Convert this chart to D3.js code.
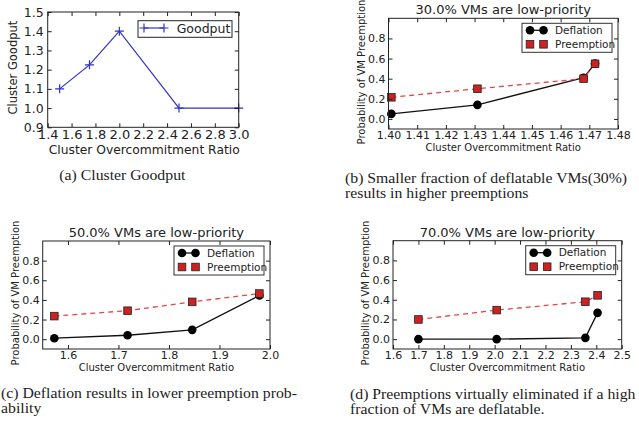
<!DOCTYPE html>
<html>
<head>
<meta charset="utf-8">
<script src="https://cdn.jsdelivr.net/npm/d3@7/dist/d3.min.js"></script>
<style>
  body { margin: 0; background: #fff; }
  text { font-family: "DejaVu Sans", sans-serif; fill: #222; }
  .caption { font-family: "Liberation Serif", serif; }
</style>
</head>
<body>
<svg id="chart" width="639" height="421"></svg>
<script>
// (a) cluster goodput
var goodputRatio = [1.5, 1.75, 2.0, 2.5, 3.0];
var goodput = [1.1, 1.225, 1.4, 1.0, 1.0];
var goodputXTicks = [1.4, 1.6, 1.8, 2.0, 2.2, 2.4, 2.6, 2.8, 3.0];
var goodputYTicks = [0.9, 1.0, 1.1, 1.2, 1.3, 1.4, 1.5];

// (b) 30% low-priority
var ratio30 = [1.401, 1.431, 1.468, 1.472];
var deflation30 = [0.05, 0.14, 0.41, 0.55];
var preemption30 = [0.215, 0.30, 0.40, 0.548];
var xTicks30 = [1.40, 1.41, 1.42, 1.43, 1.44, 1.45, 1.46, 1.47, 1.48];

// (c) 50% low-priority
var ratio50 = [1.573, 1.718, 1.846, 1.979];
var deflation50 = [0.01, 0.04, 0.095, 0.445];
var preemption50 = [0.235, 0.29, 0.38, 0.465];
var xTicks50 = [1.6, 1.7, 1.8, 1.9, 2.0];

// (d) 70% low-priority
var ratio70 = [1.70, 2.008, 2.357, 2.405];
var deflation70 = [0.0, 0.0, 0.013, 0.267];
var preemption70 = [0.20, 0.295, 0.38, 0.445];
var xTicks70 = [1.6, 1.7, 1.8, 1.9, 2.0, 2.1, 2.2, 2.3, 2.4, 2.5];

var probTicks = [0.0, 0.2, 0.4, 0.6, 0.8];
var seriesNames = ["Deflation", "Preemption"];

var captionA = ["(a) Cluster Goodput"];
var captionB = ["(b) Smaller fraction of deflatable VMs(30%)", "results in higher preemptions"];
var captionC = ["(c) Deflation results in lower preemption prob-", "ability"];
var captionD = ["(d) Preemptions virtually eliminated if a high", "fraction of VMs are deflatable."];

var svg = d3.select("#chart");
svg.append("rect").attr("width", 639).attr("height", 421).attr("fill", "#fff");

var BLUE = "#3232c4", RED = "#cc2222", DASHRED = "#e04848";

// frame with inward ticks on all four sides, labels on left/bottom
function drawFrame(g, x, y, xTicks, yTicks, xFmt, yFmt, fsX, fsY, padX, padY) {
  var w = x.range()[1], h = y.range()[0];
  var bottom = g.append("g").attr("transform", `translate(0,${h})`)
    .call(d3.axisBottom(x).tickValues(xTicks).tickFormat(xFmt).tickSizeInner(-4).tickSizeOuter(0).tickPadding(padX));
  var top = g.append("g")
    .call(d3.axisTop(x).tickValues(xTicks).tickFormat("").tickSizeInner(-4).tickSizeOuter(0));
  var left = g.append("g")
    .call(d3.axisLeft(y).tickValues(yTicks).tickFormat(yFmt).tickSizeInner(-4).tickSizeOuter(0).tickPadding(padY));
  var right = g.append("g").attr("transform", `translate(${w},0)`)
    .call(d3.axisRight(y).tickValues(yTicks).tickFormat("").tickSizeInner(-4).tickSizeOuter(0));
  [bottom, top, left, right].forEach(function(a) {
    a.select(".domain").remove();
    a.selectAll("line").attr("stroke", "#222");
    a.selectAll("text").attr("font-family", "DejaVu Sans").attr("fill", "#222");
  });
  bottom.selectAll("text").attr("font-size", fsX);
  left.selectAll("text").attr("font-size", fsY);
  g.append("rect").attr("width", w).attr("height", h)
    .attr("fill", "none").attr("stroke", "#222").attr("stroke-width", 1);
}

function drawCaption(lines, x, y) {
  svg.append("g").selectAll("text").data(lines).enter().append("text")
    .attr("class", "caption")
    .attr("transform", function(d, i) { return `translate(${x},${y + i * 14.8}) scale(1.16,1)`; })
    .attr("font-size", 13.6)
    .text(function(d) { return d; });
}

function plusPath(cx, cy, s) {
  return `M${cx - s},${cy}H${cx + s}M${cx},${cy - s}V${cy + s}`;
}

// ---------- (a) ----------
(function() {
  var L = 47.7, T = 12, W = 191, H = 115.3;
  var g = svg.append("g").attr("transform", `translate(${L},${T})`);
  var x = d3.scaleLinear().domain([1.4, 3.0]).range([0, W]);
  var y = d3.scaleLinear().domain([0.9, 1.5]).range([H, 0]);

  var line = d3.line().x(function(d, i) { return x(goodputRatio[i]); }).y(function(d) { return y(d); });
  g.append("path").datum(goodput).attr("d", line)
    .attr("fill", "none").attr("stroke", BLUE).attr("stroke-width", 1.2);
  g.selectAll("path.mk").data(goodput).enter().append("path").attr("class", "mk")
    .attr("d", function(d, i) { return plusPath(x(goodputRatio[i]), y(d), 4.5); })
    .attr("stroke", BLUE).attr("stroke-width", 1.2);

  drawFrame(g, x, y, goodputXTicks, goodputYTicks, d3.format(".1f"), d3.format(".1f"), 13, 12.5, 2, 4);

  // legend
  var lg = g.append("g").attr("transform", `translate(${138 - L},${20.7 - T})`);
  lg.append("rect").attr("width", 94).attr("height", 16.6)
    .attr("fill", "#fff").attr("stroke", "#222").attr("stroke-width", 1);
  lg.append("path").attr("d", "M6,7.3H26").attr("stroke", BLUE).attr("stroke-width", 1.2);
  lg.append("path").attr("d", plusPath(6, 7.3, 4.5) + plusPath(26, 7.3, 4.5)).attr("stroke", BLUE).attr("stroke-width", 1.2);
  lg.append("text").attr("x", 38.7).attr("y", 12).attr("font-size", 12.5).text("Goodput");

  svg.append("text").attr("x", L + W / 2 + 1).attr("y", 154).attr("text-anchor", "middle")
    .attr("font-size", 12.3).text("Cluster Overcommitment Ratio");
  svg.append("text").attr("transform", `translate(${L - 31},${T + H / 2 - 2}) rotate(-90)`)
    .attr("text-anchor", "middle").attr("font-size", 11.5).text("Cluster Goodput");
  drawCaption(captionA, 59.3, 180);
})();

// ---------- (b), (c), (d) ----------
function drawProbPanel(o) {
  var W = o.right - o.left, H = o.bottom - o.top;
  var g = svg.append("g").attr("transform", `translate(${o.left},${o.top})`);
  var x = d3.scaleLinear().domain(o.xDomain).range([0, W]);
  var y = d3.scaleLinear().domain([-0.1, 1.0]).range([H, 0]);

  var line = d3.line().x(function(d, i) { return x(o.ratios[i]); }).y(function(d) { return y(d); });

  g.append("path").datum(o.deflation).attr("d", line)
    .attr("fill", "none").attr("stroke", "#111").attr("stroke-width", 1.3);
  g.selectAll("circle.def").data(o.deflation).enter().append("circle").attr("class", "def")
    .attr("cx", function(d, i) { return x(o.ratios[i]); })
    .attr("cy", function(d) { return y(d); })
    .attr("r", 4.3).attr("fill", "#000");

  g.append("path").datum(o.preemption).attr("d", line)
    .attr("fill", "none").attr("stroke", DASHRED).attr("stroke-width", 1.3).attr("stroke-dasharray", "5,4");
  g.selectAll("rect.pre").data(o.preemption).enter().append("rect").attr("class", "pre")
    .attr("x", function(d, i) { return x(o.ratios[i]) - 3.8; })
    .attr("y", function(d) { return y(d) - 3.8; })
    .attr("width", 7.6).attr("height", 7.6)
    .attr("fill", RED).attr("stroke", "#222").attr("stroke-width", 0.8);

  drawFrame(g, x, y, o.xTicks, probTicks, d3.format(o.xFmt), d3.format(".1f"), 11, 11, 2.5, 3);

  // legend
  var lw = 90, lh = 29;
  var lg = g.append("g").attr("transform", `translate(${W - 6 - lw},5)`);
  lg.append("rect").attr("width", lw).attr("height", lh)
    .attr("fill", "#fff").attr("stroke", "#333").attr("stroke-width", 1);
  lg.append("path").attr("d", "M8,7H21.5").attr("stroke", "#111").attr("stroke-width", 1.3);
  [8, 21.5].forEach(function(cx) {
    lg.append("circle").attr("cx", cx).attr("cy", 7).attr("r", 4.3).attr("fill", "#000");
    lg.append("rect").attr("x", cx - 3.8).attr("y", 21 - 3.8).attr("width", 7.6).attr("height", 7.6)
      .attr("fill", RED).attr("stroke", "#222").attr("stroke-width", 0.8);
  });
  lg.selectAll("text").data(seriesNames).enter().append("text")
    .attr("x", 33).attr("y", function(d, i) { return 10.8 + i * 14; })
    .attr("font-size", 10.5).text(function(d) { return d; });

  svg.append("text").attr("x", o.left + W / 2).attr("y", o.top - 4).attr("text-anchor", "middle")
    .attr("font-size", 13).text(o.title);
  svg.append("text").attr("x", o.left + W / 2).attr("y", o.bottom + 21.5).attr("text-anchor", "middle")
    .attr("font-size", 10).text("Cluster Overcommitment Ratio");
  svg.append("text").attr("transform", `translate(${o.left - 24},${o.labelY}) rotate(-90)`)
    .attr("text-anchor", "middle").attr("font-size", 10).text("Probability of VM Preemption");
}

drawProbPanel({
  left: 388.5, right: 618, top: 18.3, bottom: 129,
  xDomain: [1.40, 1.48], xTicks: xTicks30, xFmt: ".2f",
  ratios: ratio30, deflation: deflation30, preemption: preemption30,
  title: "30.0% VMs are low-priority", labelY: 72
});
drawProbPanel({
  left: 42.7, right: 270, top: 241, bottom: 349,
  xDomain: [1.55, 2.0], xTicks: xTicks50, xFmt: ".1f",
  ratios: ratio50, deflation: deflation50, preemption: preemption50,
  title: "50.0% VMs are low-priority", labelY: 293
});
drawProbPanel({
  left: 393, right: 621.7, top: 240.7, bottom: 349,
  xDomain: [1.6, 2.5], xTicks: xTicks70, xFmt: ".1f",
  ratios: ratio70, deflation: deflation70, preemption: preemption70,
  title: "70.0% VMs are low-priority", labelY: 293
});

drawCaption(captionB, 345, 182.7);
drawCaption(captionC, 1, 398.3);
drawCaption(captionD, 350, 399);
</script>
</body>
</html>
